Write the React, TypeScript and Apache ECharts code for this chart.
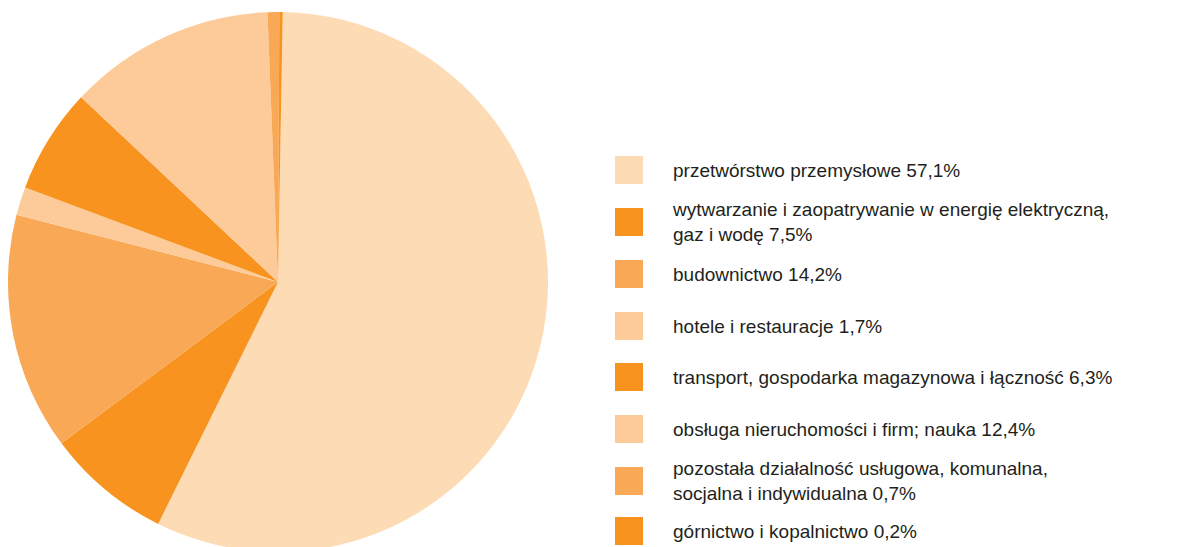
import React, { useEffect, useRef } from "react";
import * as echarts from "echarts";

const labels = [
  "przetwórstwo przemysłowe",
  "wytwarzanie i zaopatrywanie w energię elektryczną,\ngaz i wodę",
  "budownictwo",
  "hotele i restauracje",
  "transport, gospodarka magazynowa i łączność",
  "obsługa nieruchomości i firm; nauka",
  "pozostała działalność usługowa, komunalna,\nsocjalna i indywidualna",
  "górnictwo i kopalnictwo",
];
const values = [57.1, 7.5, 14.2, 1.7, 6.3, 12.4, 0.7, 0.2];
const palette = ["#FDDBB4", "#F7931E", "#F9A856", "#FDCB99", "#F7931E", "#FDCB99", "#F9A856", "#F7931E"];
const legendTops = [156, 191, 260, 312, 363, 415, 450, 517];

const names = labels.map((l) => l.replace("\n", " "));
const fmt = (v: number) => v.toFixed(1).replace(".", ",") + "%";

export default function App() {
  const ref = useRef<HTMLDivElement>(null);
  useEffect(() => {
    if (!ref.current) return;
    const chart = echarts.init(ref.current, null, { renderer: "svg" });
    const legends = names.map((n, i) => {
      const twoLine = labels[i].includes("\n");
      return {
        data: [n],
        left: 615,
        top: legendTops[i],
        padding: 0,
        itemWidth: 28,
        itemHeight: 28,
        icon: "rect",
        selectedMode: false,
        formatter: () => labels[i] + " " + fmt(values[i]),
        textStyle: {
          fontFamily: "Liberation Sans, Arial, sans-serif",
          fontSize: 19,
          color: "#231F20",
          lineHeight: 25,
          padding: twoLine ? [12, 0, 0, 25] : [0, 0, 0, 25],
        },
      };
    });
    chart.setOption({
      animation: false,
      legend: legends,
      series: [
        {
          type: "pie",
          center: [278, 282],
          radius: 270,
          startAngle: 89,
          clockwise: true,
          silent: true,
          label: { show: false },
          labelLine: { show: false },
          emphasis: { disabled: true },
          data: names.map((n, i) => ({
            name: n,
            value: values[i],
            itemStyle: { color: palette[i] },
          })),
        },
      ],
    });
    return () => chart.dispose();
  }, []);
  return (
    <div
      ref={ref}
      style={{ position: "fixed", left: 0, top: 0, width: 1177, height: 547, background: "#fff" }}
    />
  );
}
